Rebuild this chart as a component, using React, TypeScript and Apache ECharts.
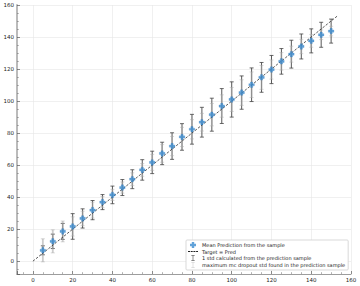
import React, { useEffect, useRef } from "react";
import * as echarts from "echarts";

const targets = [5, 10, 15, 20, 25, 30, 35, 40, 45, 50, 55, 60, 65, 70, 75, 80, 85, 90, 95, 100, 105, 110, 115, 120, 125, 130, 135, 140, 145, 150];
const meanPred = [6.8, 12.4, 18.6, 21.7, 26.7, 31.9, 36.9, 41.4, 46, 51.2, 57, 61.7, 67.3, 71.9, 77.6, 82.4, 86.8, 91.5, 96.9, 101, 105.3, 110.2, 114.8, 119.7, 124.8, 129.3, 134.1, 137.6, 141.4, 143.7];
const stdPred = [2.8, 4.5, 5, 8, 6, 6, 4.7, 5.5, 5, 5.9, 6.4, 7, 7, 8.3, 8.3, 9.3, 9.3, 10.3, 10.9, 11, 10.4, 10.5, 9.3, 8.8, 8, 8.7, 7.8, 7.5, 7.8, 7.5];
const maxMcStd = [7.2, 7.2, 6.5, 6, 4.5, 5, 3.5, 3.5, 3.5, 4, 4, 5, 5.5, 6, 6, 6, 5.5, 7, 7, 7.5, 8, 8, 7.5, 6, 5.5, 5, 4.5, 4, 3, 3];
const identityLine = [[0, 0], [153, 153]];

const NAME_MEAN = "Mean Prediction from the sample";
const NAME_LINE = "Target = Pred";
const NAME_STD = "1 std calculated from the prediction sample";
const NAME_MAX = "maximum mc dropout std found in the prediction sample";

const PLUS = "path://M3,0H7V3H10V7H7V10H3V7H0V3H3Z";
const ERRBAR = "path://M2,0H8V1H5.5V9H8V10H2V9H4.5V1H2Z";
const DASHES = "path://M0,0H2V0.8H0Z M2.7,0H4.7V0.8H2.7Z M5.4,0H7.4V0.8H5.4Z M8.1,0H10V0.8H8.1Z";

function errorRenderer(color: string, width: number, opacity: number) {
  return (params: any, api: any) => {
    const x = api.value(0);
    const y = api.value(1);
    const e = api.value(2);
    const top = api.coord([x, y + e]);
    const bot = api.coord([x, y - e]);
    const cw = 2;
    const style = { stroke: color, lineWidth: width, opacity };
    return {
      type: "group",
      children: [
        { type: "line", shape: { x1: top[0], y1: top[1], x2: bot[0], y2: bot[1] }, style },
        { type: "line", shape: { x1: top[0] - cw, y1: top[1], x2: top[0] + cw, y2: top[1] }, style: { ...style, lineWidth: 0.8 } },
        { type: "line", shape: { x1: bot[0] - cw, y1: bot[1], x2: bot[0] + cw, y2: bot[1] }, style: { ...style, lineWidth: 0.8 } },
      ],
    };
  };
}

export default function App() {
  const ref = useRef<HTMLDivElement>(null);
  useEffect(() => {
    if (!ref.current) return;
    const chart = echarts.init(ref.current, null, { renderer: "svg" });
    const font = "DejaVu Sans";
    const axisCommon = {
      type: "value" as const,
      min: -8,
      max: 160,
      splitNumber: 8,
      axisLabel: { fontSize: 5.5, color: "#222", fontFamily: font, margin: 3, showMinLabel: false },
      axisTick: { inside: true, length: 3, lineStyle: { color: "#444", width: 0.6 } },
      minorTick: { show: true, splitNumber: 4, length: 1.8, lineStyle: { color: "#666", width: 0.5 } },
      splitLine: { show: true, lineStyle: { color: "#e6e6e6", width: 0.6 } },
    };
    chart.setOption({
      animation: false,
      backgroundColor: "#fff",
      grid: { left: 17, right: 9, top: 5, bottom: 12 },
      xAxis: {
        ...axisCommon,
        axisLine: { show: true, onZero: false, lineStyle: { color: "#888", width: 0.8 } },
      },
      yAxis: {
        ...axisCommon,
        axisLine: { show: true, onZero: false, lineStyle: { color: "#bbb", width: 2 } },
      },
      legend: {
        orient: "vertical",
        left: 186,
        top: 240,
        width: 163,
        padding: [2, 3, 2, 2],
        itemGap: 1,
        itemWidth: 10,
        itemHeight: 6,
        borderColor: "#cfcfcf",
        borderWidth: 0.8,
        borderRadius: 1,
        backgroundColor: "#fff",
        textStyle: { fontSize: 5, color: "#222", fontFamily: font, padding: [0, 0, 0, -1] },
        data: [
          { name: NAME_MEAN, icon: PLUS, itemStyle: { color: "#3a8bd0", borderWidth: 0 } },
          { name: NAME_LINE, icon: DASHES, itemStyle: { color: "#222", borderWidth: 0 } },
          { name: NAME_STD, icon: ERRBAR, itemStyle: { color: "#444", borderWidth: 0 } },
          { name: NAME_MAX, icon: ERRBAR, itemStyle: { color: "#ccc", borderWidth: 0 } },
        ],
      },
      series: [
        {
          name: NAME_STD,
          type: "custom",
          renderItem: errorRenderer("#444", 0.9, 1),
          encode: { x: 0, y: 1 },
          data: targets.map((t, i) => [t, meanPred[i], stdPred[i]]),
          z: 2,
        },
        {
          name: NAME_MAX,
          type: "custom",
          renderItem: errorRenderer("#aaa", 1.8, 0.6),
          encode: { x: 0, y: 1 },
          data: targets.map((t, i) => [t, meanPred[i], maxMcStd[i]]),
          z: 3,
        },
        {
          name: NAME_LINE,
          type: "line",
          data: identityLine,
          showSymbol: false,
          symbol: "none",
          lineStyle: { color: "#111", width: 0.7, type: [2.5, 1.5] },
          itemStyle: { color: "#111" },
          z: 4,
        },
        {
          name: NAME_MEAN,
          type: "scatter",
          symbol: PLUS,
          symbolSize: 5.5,
          itemStyle: { color: "#3a8bd0", borderColor: "#2a78bd", borderWidth: 0.3 },
          data: targets.map((t, i) => [t, meanPred[i]]),
          z: 5,
        },
      ],
    });
    return () => chart.dispose();
  }, []);
  return <div ref={ref} style={{ width: 360, height: 286, position: "absolute", left: 0, top: 0 }} />;
}
